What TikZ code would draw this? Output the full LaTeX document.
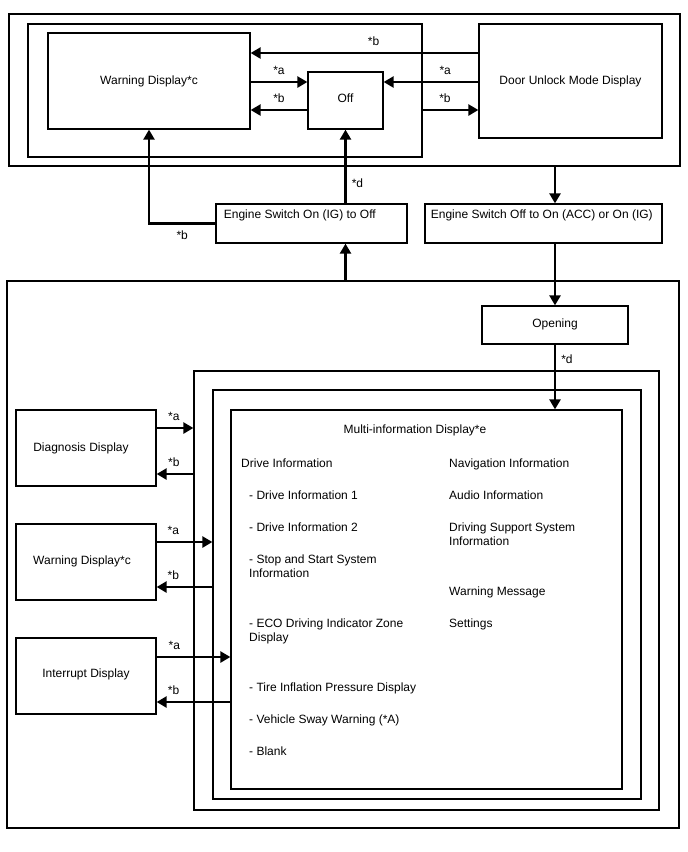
\documentclass[tikz,border=0pt]{standalone}
\usepackage{fontspec}
\setmainfont{Liberation Sans}
\usetikzlibrary{arrows.meta,positioning}

\begin{document}
\begin{tikzpicture}[
x=1pt,y=-1pt,
font=\fontsize{12}{14}\selectfont,
box/.style={rectangle,draw,line width=1.3pt,inner sep=0pt,align=center},
arr/.style={-{Triangle[length=10pt,width=11pt]},line width=2.6pt},
tag/.style={above=4pt,inner sep=2pt},
item/.style={anchor=north west,inner sep=0pt,align=left}
]
\useasboundingbox (0,0) rectangle (688,852);

% upper group
\node[box,minimum width=671pt,minimum height=152pt] (upper) at (344.5,90) {};
\node[box,minimum width=394pt,minimum height=133pt] (inner) at (225,90.5) {};
\node[box,minimum width=202pt,minimum height=96pt] (warntop) at (149,81) {\raisebox{1.5pt}{Warning Display*c}};
\node[box,minimum width=75pt,minimum height=57pt] (off) at (345.5,100.5) {\raisebox{5pt}{Off}};
\node[box,minimum width=183pt,minimum height=114pt] (door) at (570.5,81) {\raisebox{1.5pt}{Door Unlock Mode Display}};

% engine switch
\node[box,minimum width=191pt,minimum height=39pt,
  label={[anchor=north west,xshift=5pt,yshift=-2.5pt]north west:Engine Switch On (IG) to Off}] (engon) at (311.5,223.5) {};
\node[box,minimum width=237pt,minimum height=39pt,
  label={[anchor=north west,xshift=3pt,yshift=-2.5pt]north west:Engine Switch Off to On (ACC) or On (IG)}] (engoff) at (543.5,223.5) {};

% lower group
\node[box,minimum width=672pt,minimum height=547pt] (lower) at (343,554.5) {};
\node[box,minimum width=146pt,minimum height=38pt] (opening) at (555,325) {\raisebox{3pt}{Opening}};
\node[box,minimum width=465pt,minimum height=439pt] (frame1) at (426.5,590.5) {};
\node[box,minimum width=428pt,minimum height=409pt] (frame2) at (427,594.5) {};
\node[box,minimum width=391pt,minimum height=379pt] (multi) at (426.5,599.5) {};
\node[box,minimum width=140pt,minimum height=76pt] (diag) at (86,448) {Diagnosis Display\hspace*{10pt}};
\node[box,minimum width=140pt,minimum height=76pt] (warnbot) at (86,562) {\raisebox{4pt}{Warning Display*c}\hspace*{8pt}};
\node[box,minimum width=140pt,minimum height=76pt] (intr) at (86,676) {\raisebox{5pt}{Interrupt Display}};

% multi-information display contents
\node (mtitle) at (415,430) {Multi-information Display*e};
\node[item] (drive) at (241,458.4) {Drive Information};
\node[item] (drive1) at (249,490.4) {- Drive Information 1};
\node[item] (drive2) at (249,522.4) {- Drive Information 2};
\node[item] (stopstart) at (249,554.4) {- Stop and Start System\\Information};
\node[item] (eco) at (249,618.4) {- ECO Driving Indicator Zone\\Display};
\node[item] (tire) at (249,682.4) {- Tire Inflation Pressure Display};
\node[item] (sway) at (249,714.4) {- Vehicle Sway Warning (*A)};
\node[item] (blank) at (249,746.4) {- Blank};
\node[item] (navi) at (449,458.4) {Navigation Information};
\node[item] (audio) at (449,490.4) {Audio Information};
\node[item] (support) at (449,522.4) {Driving Support System\\Information};
\node[item] (warnmsg) at (449,586.4) {Warning Message};
\node[item] (settings) at (449,618.4) {Settings};

% upper connectors
\draw[arr] ([yshift=28pt]door.west) -- ([yshift=28pt]door.west -| warntop.east) node[tag,pos=0.46] {*b};
\draw[arr] ([yshift=-1pt]warntop.east) -- ([yshift=-1pt]warntop.east -| off.west) node[tag,midway] {*a};
\draw[arr] ([yshift=-9.5pt]off.west) -- ([yshift=-9.5pt]off.west -| warntop.east) node[tag,midway] {*b};
\draw[arr] ([yshift=-1pt]door.west) -- ([yshift=-1pt]door.west -| off.east) node[tag,pos=0.35] {*a};
\draw[arr] ([yshift=-9.5pt]off.west -| inner.east) -- ([yshift=-9.5pt]off.west -| door.west) node[tag,pos=0.4] {*b};
\draw[arr] (opening.north |- upper.south) -- (opening.north |- engoff.north);
\draw[arr] (engon.west) -| (warntop.south) node[below=4pt,inner sep=2pt,pos=0.25] {*b};
\draw[arr] (off.south |- engon.north) -- (off.south) node[right=3pt,inner sep=2pt,pos=0.28] {*d};
\draw[arr] (off.south |- lower.north) -- (off.south |- engon.south);

% lower connectors
\draw[arr] (opening.north |- engoff.south) -- (opening.north);
\draw[arr] (opening.south) -- (opening.south |- multi.north) node[right=3pt,inner sep=2pt,pos=0.23] {*d};
\draw[arr] ([yshift=20pt]diag.east) -- ([yshift=20pt]diag.east -| frame1.west) node[tag,pos=0.47] {*a};
\draw[arr] ([yshift=-26pt]diag.east -| frame1.west) -- ([yshift=-26pt]diag.east) node[tag,pos=0.53] {*b};
\draw[arr] ([yshift=20pt]warnbot.east) -- ([yshift=20pt]warnbot.east -| frame2.west) node[tag,pos=0.3] {*a};
\draw[arr] ([yshift=-25pt]warnbot.east -| frame2.west) -- ([yshift=-25pt]warnbot.east) node[tag,pos=0.7] {*b};
\draw[arr] ([yshift=19pt]intr.east) -- ([yshift=19pt]intr.east -| multi.west) node[tag,pos=0.24] {*a};
\draw[arr] ([yshift=-26pt]intr.east -| multi.west) -- ([yshift=-26pt]intr.east) node[tag,pos=0.77] {*b};
\end{tikzpicture}
\end{document}
